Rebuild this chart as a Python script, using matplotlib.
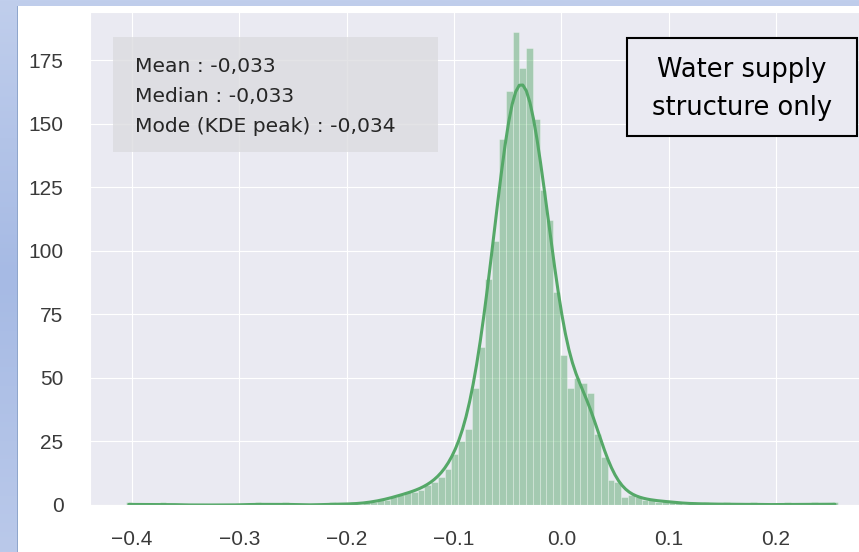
import numpy as np
import pandas as pd
import matplotlib
matplotlib.use("Agg")
import matplotlib.pyplot as plt
from matplotlib.patches import Rectangle
import seaborn as sns

# ---- data ----
bin_start = -0.406
bin_width = 0.006324
counts = [
    1, 0, 0, 0, 0, 1, 0, 0, 0, 0,
    0, 0, 0, 0, 0, 0, 0, 0, 0, 1,
    0, 0, 0, 1, 0, 0, 0, 0, 0, 0,
    1, 0, 0, 1, 0, 1, 1, 2, 2, 3,
    4, 5, 5, 6, 8, 9, 11, 14, 20, 25,
    30, 46, 62, 89, 104, 144, 163, 186, 172, 180,
    152, 124, 112, 84, 59, 46, 50, 48, 44, 28,
    19, 10, 9, 3, 4, 3, 2, 2, 1, 2,
    1, 1, 0, 1, 0, 1, 0, 0, 1, 0,
    0, 0, 1, 0, 0, 0, 0, 1, 0, 0,
    0, 1, 0, 0, 1,
]
x_ticks = [-0.4, -0.3, -0.2, -0.1, 0.0, 0.1, 0.2]
x_tick_labels = ["\u22120.4", "\u22120.3", "\u22120.2", "\u22120.1", "0.0", "0.1", "0.2"]
y_ticks = [0, 25, 50, 75, 100, 125, 150, 175]
stats_lines = ["Mean : -0,033", "Median : -0,033", "Mode (KDE peak) : -0,034"]
label_lines = ["Water supply", "structure only"]

n_bins = len(counts)
edges = bin_start + bin_width * np.arange(n_bins + 1)
centers = (edges[:-1] + edges[1:]) / 2
df = pd.DataFrame({"value": centers, "count": counts})

sns.set_style("darkgrid")
plt.rcParams["font.family"] = ["Liberation Sans", "DejaVu Sans"]

W, H = 859, 552
fig = plt.figure(figsize=(W / 100, H / 100), dpi=100)

# slide background (light blue gradient) and white picture area
bg = fig.add_axes([0, 0, 1, 1], zorder=-10)
grad_top = np.array([192, 206, 236]) / 255
grad_mid = np.array([166, 186, 228]) / 255
grad_bot = np.array([186, 201, 234]) / 255
t = np.linspace(0, 1, 200)[:, None]
col = np.where(t < 0.5, grad_top + (grad_mid - grad_top) * (t / 0.5),
               grad_mid + (grad_bot - grad_mid) * ((t - 0.5) / 0.5))
bg.imshow(col[:, None, :], aspect="auto", extent=(0, 1, 0, 1))
bg.set_axis_off()
fig.patches.append(Rectangle((18 / W, 0), 1, 1 - 6 / H, transform=fig.transFigure,
                             facecolor="white", edgecolor="none", zorder=-5))
fig.patches.append(Rectangle((17 / W, 0), 1 / W, 1 - 6 / H, transform=fig.transFigure,
                             facecolor="#8fa6cc", edgecolor="none", zorder=-4))

ax = fig.add_axes([90 / W, 47 / H, 784 / W, 493 / H])
green = "#55A868"
sns.histplot(data=df, x="value", weights="count", bins=n_bins,
             binrange=(edges[0], edges[-1]), kde=True, ax=ax,
             color=green, alpha=0.47, edgecolor=(1, 1, 1, 0.3), linewidth=0.7,
             line_kws={"linewidth": 2.2}, kde_kws={"bw_adjust": 0.48})
ax.set_xlabel("")
ax.set_ylabel("")
ax.set_ylim(0, 194)
ax.set_xticks(x_ticks)
ax.set_yticks(y_ticks)
ax.set_xticklabels(x_tick_labels)
ax.tick_params(axis="both", labelsize=15, labelcolor="#3a3a3a", length=0)
ax.tick_params(axis="y", pad=19)
ax.tick_params(axis="x", pad=18)

# stats box
fig.patches.append(Rectangle((113 / W, 1 - 152 / H), (438 - 113) / W, (152 - 37) / H,
                             transform=fig.transFigure, facecolor="#dcdce0", alpha=0.8,
                             edgecolor="none", zorder=3))
for i, line in enumerate(stats_lines):
    fig.text(135 / W, 1 - (72 + 30 * i) / H, line, fontsize=14.6, family="DejaVu Sans",
             color="#262626", va="baseline", ha="left", zorder=4)

# label box
fig.patches.append(Rectangle((627 / W, 1 - 136 / H), (857 - 627) / W, (136 - 38) / H,
                             transform=fig.transFigure, facecolor="#eaeaf2",
                             edgecolor="black", linewidth=1.5, zorder=3))
for i, line in enumerate(label_lines):
    fig.text(742 / W, 1 - (77 + 38 * i) / H, line, fontsize=18.5, family="DejaVu Sans",
             color="black", ha="center", va="baseline", zorder=4)

fig.savefig("out.png", dpi=100)
